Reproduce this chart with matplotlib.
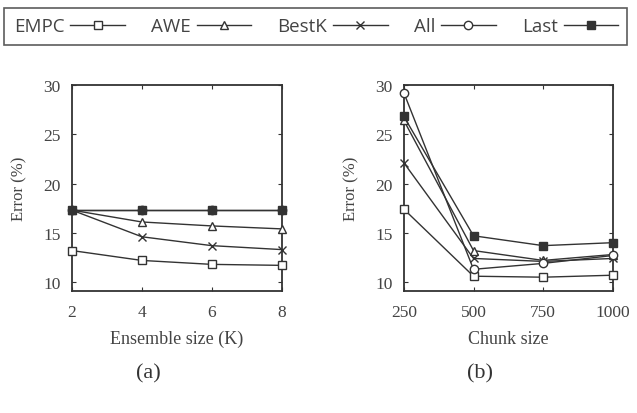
import matplotlib
matplotlib.use("Agg")
import matplotlib.pyplot as plt
from matplotlib.lines import Line2D

# Data
methods = ["EMPC", "AWE", "BestK", "All", "Last"]
markers = ["s", "^", "x", "o", "s"]
filled = [False, False, False, False, True]

ensemble_sizes = [2, 4, 6, 8]
err_a = {
    "EMPC": [13.2, 12.2, 11.8, 11.7],
    "AWE": [17.3, 16.1, 15.7, 15.4],
    "BestK": [17.3, 14.6, 13.7, 13.3],
    "All": [17.3, 17.3, 17.3, 17.3],
    "Last": [17.3, 17.3, 17.3, 17.3],
}

chunk_sizes = [250, 500, 750, 1000]
err_b = {
    "EMPC": [17.4, 10.6, 10.5, 10.7],
    "AWE": [26.4, 13.2, 12.2, 12.8],
    "BestK": [22.1, 12.4, 12.1, 12.4],
    "All": [29.2, 11.3, 11.9, 12.7],
    "Last": [26.8, 14.7, 13.7, 14.0],
}

LINE = "#333333"
TEXT = "#444444"
plt.rcParams["font.family"] = ["Liberation Serif", "DejaVu Serif"]
plt.rcParams["xtick.direction"] = "in"
plt.rcParams["ytick.direction"] = "in"

fig = plt.figure(figsize=(6.37, 4.14), dpi=100)
ax_a = fig.add_axes([0.113, 0.2935, 0.329, 0.499])
ax_b = fig.add_axes([0.634, 0.2935, 0.328, 0.499])


def draw(ax, xs, data):
    for name, mk, fill in zip(methods, markers, filled):
        ax.plot(xs, data[name], color=LINE, lw=1.0, marker=mk, ms=6,
                mfc=LINE if fill else "white", mec=LINE, mew=1.0,
                clip_on=False, zorder=3)
    ax.set_ylim(9.05, 30)
    ax.set_yticks([10, 15, 20, 25, 30])
    ax.set_xlim(xs[0], xs[-1])
    ax.set_xticks(xs)
    ax.tick_params(top=True, right=True, labelsize=12.5, length=3,
                   colors=LINE, labelcolor=TEXT)
    ax.tick_params(axis="x", pad=9)
    ax.tick_params(axis="y", pad=8)
    for s in ax.spines.values():
        s.set_linewidth(1.3)
        s.set_color(LINE)
    ax.set_ylabel("Error (%)", fontsize=12, color=TEXT)
    ax.yaxis.set_label_coords(-0.215, 0.5)


draw(ax_a, ensemble_sizes, err_a)
draw(ax_b, chunk_sizes, err_b)
ax_a.set_xlabel("Ensemble size (K)", fontsize=13, color=TEXT, labelpad=7)
ax_b.set_xlabel("Chunk size", fontsize=13, color=TEXT, labelpad=7)

fig.text(148 / 637, 1 - 374 / 414, "(a)", ha="center", va="center",
         fontsize=16, color=LINE)
fig.text(480 / 637, 1 - 374 / 414, "(b)", ha="center", va="center",
         fontsize=16, color=LINE)

handles = [Line2D([], [], color=LINE, lw=1.0, marker=mk, ms=6,
                  mfc=LINE if fill else "white", mec=LINE)
           for mk, fill in zip(markers, filled)]
leg = fig.legend(handles, methods, loc="upper center", ncol=5,
                 bbox_to_anchor=(0.496, 0.978),
                 markerfirst=False, handlelength=2.9, handletextpad=0.32,
                 columnspacing=1.4, borderpad=0.5,
                 frameon=True, fancybox=False, borderaxespad=0,
                 prop={"family": "Open Sans", "size": 13.5})
leg.get_frame().set_edgecolor(LINE)
leg.get_frame().set_linewidth(1.2)
for t in leg.get_texts():
    t.set_color(TEXT)

fig.savefig("out.png", dpi=100)
